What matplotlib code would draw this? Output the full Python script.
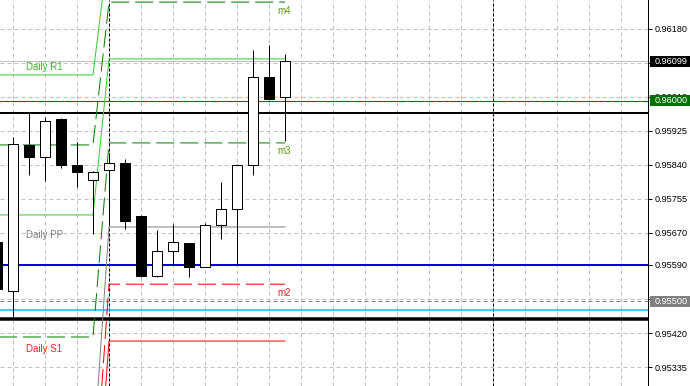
import matplotlib
matplotlib.use('Agg')
import matplotlib.pyplot as plt
from matplotlib.patches import Rectangle

# --- candles (bar 0 is cut off at the left edge) ---
bar_idx = list(range(19))
opens = [0.95647, 0.95525, 0.95890, 0.95860, 0.95955, 0.95840, 0.95802, 0.95827, 0.95845, 0.95712,
         0.95562, 0.95625, 0.95645, 0.95585, 0.95690, 0.95730, 0.95840, 0.96060, 0.96010]
highs = [0.95657, 0.95910, 0.95970, 0.95960, 0.95957, 0.95897, 0.95825, 0.95870, 0.95855, 0.95715,
         0.95677, 0.95692, 0.95645, 0.95695, 0.95797, 0.95842, 0.96127, 0.96140, 0.96117]
lows = [0.95515, 0.95460, 0.95815, 0.95800, 0.95832, 0.95785, 0.95667, 0.95690, 0.95680, 0.95560,
        0.95560, 0.95590, 0.95560, 0.95585, 0.95655, 0.95592, 0.95815, 0.96002, 0.95900]
closes = [0.95530, 0.95892, 0.95860, 0.95950, 0.95840, 0.95822, 0.95822, 0.95845, 0.95700, 0.95562,
          0.95625, 0.95647, 0.95585, 0.95690, 0.95730, 0.95840, 0.96060, 0.96005, 0.96100]

# --- daily pivot levels: previous day / current day ---
pivot_names = ['R2', 'R1', 'm4', 'm3', 'PP', 'm2', 'S1']
pivot_prev = [0.96065, 0.95715, 0.95890, 0.95410, 0.95105, 0.94978, 0.94853]
pivot_now = [0.96390, 0.96105, 0.96247, 0.95895, 0.95685, 0.95542, 0.95400]
pivot_text = {'R1': 'Daily R1', 'PP': 'Daily PP', 'S1': 'Daily S1', 'm4': 'm4', 'm3': 'm3', 'm2': 'm2'}
day_end_bar = 6       # last bar of previous day
day_start_bar = 7     # first bar of current day
last_bar = 18
separator_bars = [7, 31]

# --- horizontal price lines ---
hline_prices = [0.96099, 0.96000, 0.95970, 0.95590, 0.95500, 0.95477, 0.95455]

# --- price axis (labels under the price boxes are hidden) ---
ytick_vals = [0.96180, 0.96095, 0.96010, 0.95925, 0.95840, 0.95755, 0.95670, 0.95590, 0.95505, 0.95420, 0.95335]
ytick_labels = ['0.96180', '', '0.96010', '0.95925', '0.95840', '0.95755',
                '0.95670', '0.95590', '', '0.95420', '0.95335']
box_prices = [0.96099, 0.96000, 0.95500]

PX = 0.72  # one pixel in points at dpi 100
plt.rcParams['font.family'] = ['Liberation Sans', 'DejaVu Sans']

fig = plt.figure(figsize=(6.9, 3.86), dpi=100)
ax = fig.add_axes([0, 0, 648 / 690, 1])
ymin, ymax = 0.952876, 0.962522
ax.set_ylim(ymin, ymax)
ax.set_xlim(0.1875, 40.6875)
pp = (ymax - ymin) / 386  # price per pixel

# grid
ax.set_xticks(range(1, 41, 2))
ax.set_yticks(ytick_vals, ytick_labels)
ax.grid(True, color='#c0c0c0', lw=PX, ls=(0, (4, 3)), zorder=0)
ax.set_axisbelow(True)
ax.yaxis.tick_right()
ax.tick_params(axis='x', length=0, labelbottom=False)
ax.tick_params(axis='y', length=4 * PX, width=PX, pad=3 * PX, labelsize=6.6, colors='black')
for s in ['left', 'top', 'bottom']:
    ax.spines[s].set_visible(False)
ax.spines['right'].set_linewidth(PX)

# period separators
for b in separator_bars:
    ax.axvline(b, color='black', lw=PX, ls=(0, (3, 2)), zorder=1)

# horizontal lines
hl_styles = [
    dict(color='#c0c0c0', lw=PX),
    dict(color='#a02020', lw=PX),
    dict(color='black', lw=2 * PX),
    dict(color='#0000e0', lw=2 * PX),
    dict(color='#808080', lw=PX, ls=(0, (4, 3))),
    dict(color='#00bfff', lw=1.5 * PX),
    dict(color='black', lw=3.5 * PX),
]
for p, st in zip(hline_prices, hl_styles):
    ax.axhline(p, zorder=2, **st)
ax.axhline(hline_prices[1], color='#008000', lw=PX, ls=(0, (3, 6)), zorder=2)

# pivot lines
piv_colors = {'R2': '#32cd32', 'R1': '#32cd32', 'm4': '#008000', 'm3': '#008000',
              'PP': '#808080', 'm2': '#ff0000', 'S1': '#ff0000'}
piv_dashed = {'m4', 'm3', 'm2'}
for name, pv, nv in zip(pivot_names, pivot_prev, pivot_now):
    xs = [0, day_end_bar, day_start_bar, last_bar]
    ys = [pv, pv, nv, nv]
    ls = (0, (18, 6)) if name in piv_dashed else '-'
    ax.plot(xs, ys, color=piv_colors[name], lw=PX, ls=ls, zorder=2)

# pivot labels
label_colors = {'R1': '#40b830', 'PP': '#808080', 'S1': '#ff2020',
                'm4': '#5a9a10', 'm3': '#5a9a10', 'm2': '#ff2020'}
for name, nv in zip(pivot_names, pivot_now):
    if name not in pivot_text:
        continue
    x = 1.8 if name in ('R1', 'PP', 'S1') else 17.55
    ax.annotate(pivot_text[name], (x, nv), xytext=(0, -2.5), textcoords='offset points',
                ha='left', va='top', fontsize=7, color=label_colors[name], zorder=4)

# candles
for i, o, h, l, c in zip(bar_idx, opens, highs, lows, closes):
    ax.vlines(i, l, h, color='black', lw=PX, zorder=3)
    face = 'white' if c >= o else 'black'
    ax.bar(i, abs(c - o), bottom=min(o, c), width=0.6, color=face,
           edgecolor='black', lw=PX, zorder=3)

# price boxes on the axis
box_colors = ['#000000', '#007000', '#808080']
tr = ax.get_yaxis_transform()
for p, col in zip(box_prices, box_colors):
    ax.add_patch(Rectangle((1.0 + 2 / 648, p - 5.5 * pp), 42 / 648, 11 * pp, transform=tr,
                           facecolor=col, edgecolor='none', clip_on=False, zorder=5))
    ax.text(1.0 + 7 / 648, p, '%.5f' % p, transform=tr, ha='left', va='center',
            fontsize=6.6, color='white', clip_on=False, zorder=6)

fig.savefig('out.png', dpi=100, facecolor='white')
